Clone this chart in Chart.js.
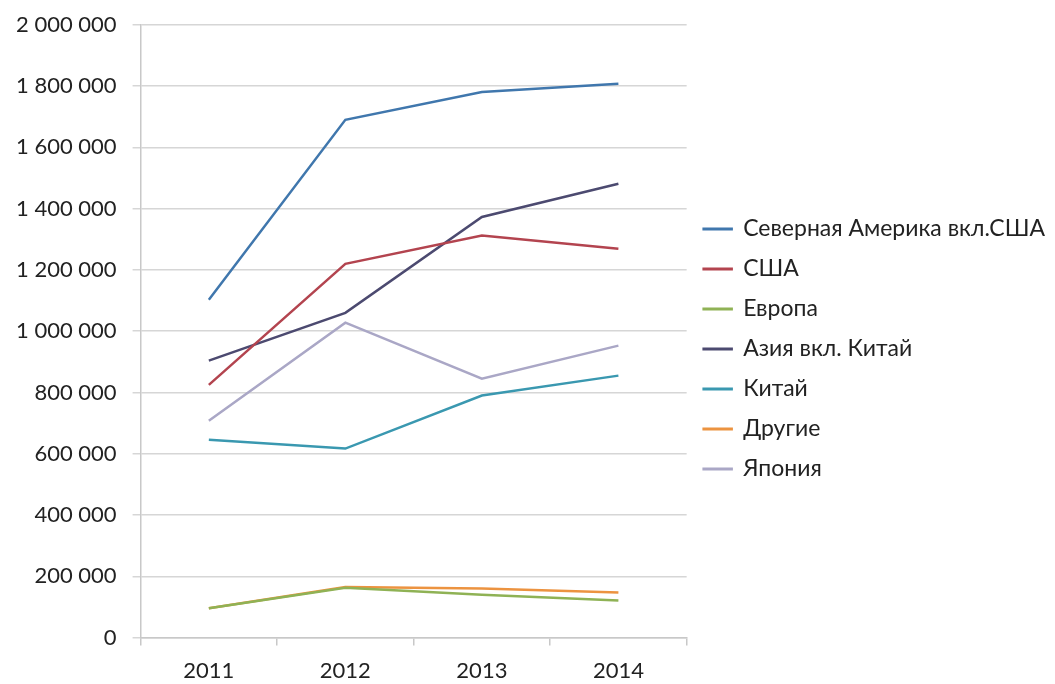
<!DOCTYPE html>
<html>
<head>
<meta charset="utf-8">
<script src="https://cdn.jsdelivr.net/npm/chart.js@4/dist/chart.umd.min.js"></script>
<style>
  html, body { margin: 0; padding: 0; background: #fff; }
  #wrap { width: 1055px; height: 684px; position: relative; }
</style>
</head>
<body>
<div id="wrap"><canvas id="line-chart"></canvas></div>
<script>
const years = ['2011', '2012', '2013', '2014'];
const northAmerica = [1103000, 1690000, 1781000, 1808000];
const usa = [825000, 1220000, 1312000, 1269000];
const europe = [96000, 163000, 140000, 121000];
const asia = [904000, 1060000, 1373000, 1481000];
const china = [646000, 617000, 790000, 855000];
const others = [96000, 165000, 160000, 147000];
const japan = [708000, 1028000, 845000, 953000];
const yTicks = [0, 200000, 400000, 600000, 800000, 1000000, 1200000, 1400000, 1600000, 1800000, 2000000];

function fmt(v) {
    return String(v).replace(/\B(?=(\d{3})+(?!\d))/g, ' ');
}

function series(label, data, color) {
    return {
        label: label,
        data: data,
        borderColor: color,
        backgroundColor: color,
        borderWidth: 2.5,
        pointRadius: 0,
        tension: 0,
        fill: false
    };
}

new Chart(document.getElementById("line-chart"), {
    type: 'line',
    data: {
        labels: years,
        datasets: [
            series("Северная Америка вкл.США", northAmerica, "#4077ad"),
            series("США", usa, "#b3444f"),
            series("Европа", europe, "#8fb255"),
            series("Азия вкл. Китай", asia, "#4c4a70"),
            series("Китай", china, "#3a98b0"),
            series("Другие", others, "#ec9340"),
            series("Япония", japan, "#aaa7c6")
        ]
    },
    options: {
        responsive: true,
        maintainAspectRatio: false,
        animation: false,
        layout: { padding: { top: 2, bottom: -12, left: 0, right: 0 } },
        plugins: {
            title: { display: false },
            tooltip: { enabled: false },
            legend: {
                position: 'right',
                maxWidth: 370,
                labels: {
                    boxWidth: 28,
                    boxHeight: 0.5,
                    padding: 17,
                    color: '#222',
                    font: { family: 'Lato', size: 23 }
                }
            }
        },
        scales: {
            x: {
                offset: true,
                grid: {
                    offset: true,
                    drawOnChartArea: false,
                    tickLength: 8,
                    color: '#c8c8c8',
                    lineWidth: 1.5
                },
                border: { color: '#c8c8c8', width: 1.5 },
                ticks: {
                    padding: 12,
                    color: '#222',
                    font: { family: 'Lato', size: 22 }
                }
            },
            y: {
                min: 0,
                max: 2000000,
                afterBuildTicks: function (axis) {
                    axis.ticks = yTicks.map(v => ({ value: v }));
                },
                grid: {
                    tickLength: 8,
                    color: '#d6d6d6',
                    lineWidth: 1.5
                },
                border: { color: '#c8c8c8', width: 1.5 },
                ticks: {
                    padding: 16,
                    color: '#222',
                    font: { family: 'Lato', size: 22, lineHeight: 0.8 },
                    callback: function (v) { return fmt(v); }
                }
            }
        }
    }
});
</script>
</body>
</html>
